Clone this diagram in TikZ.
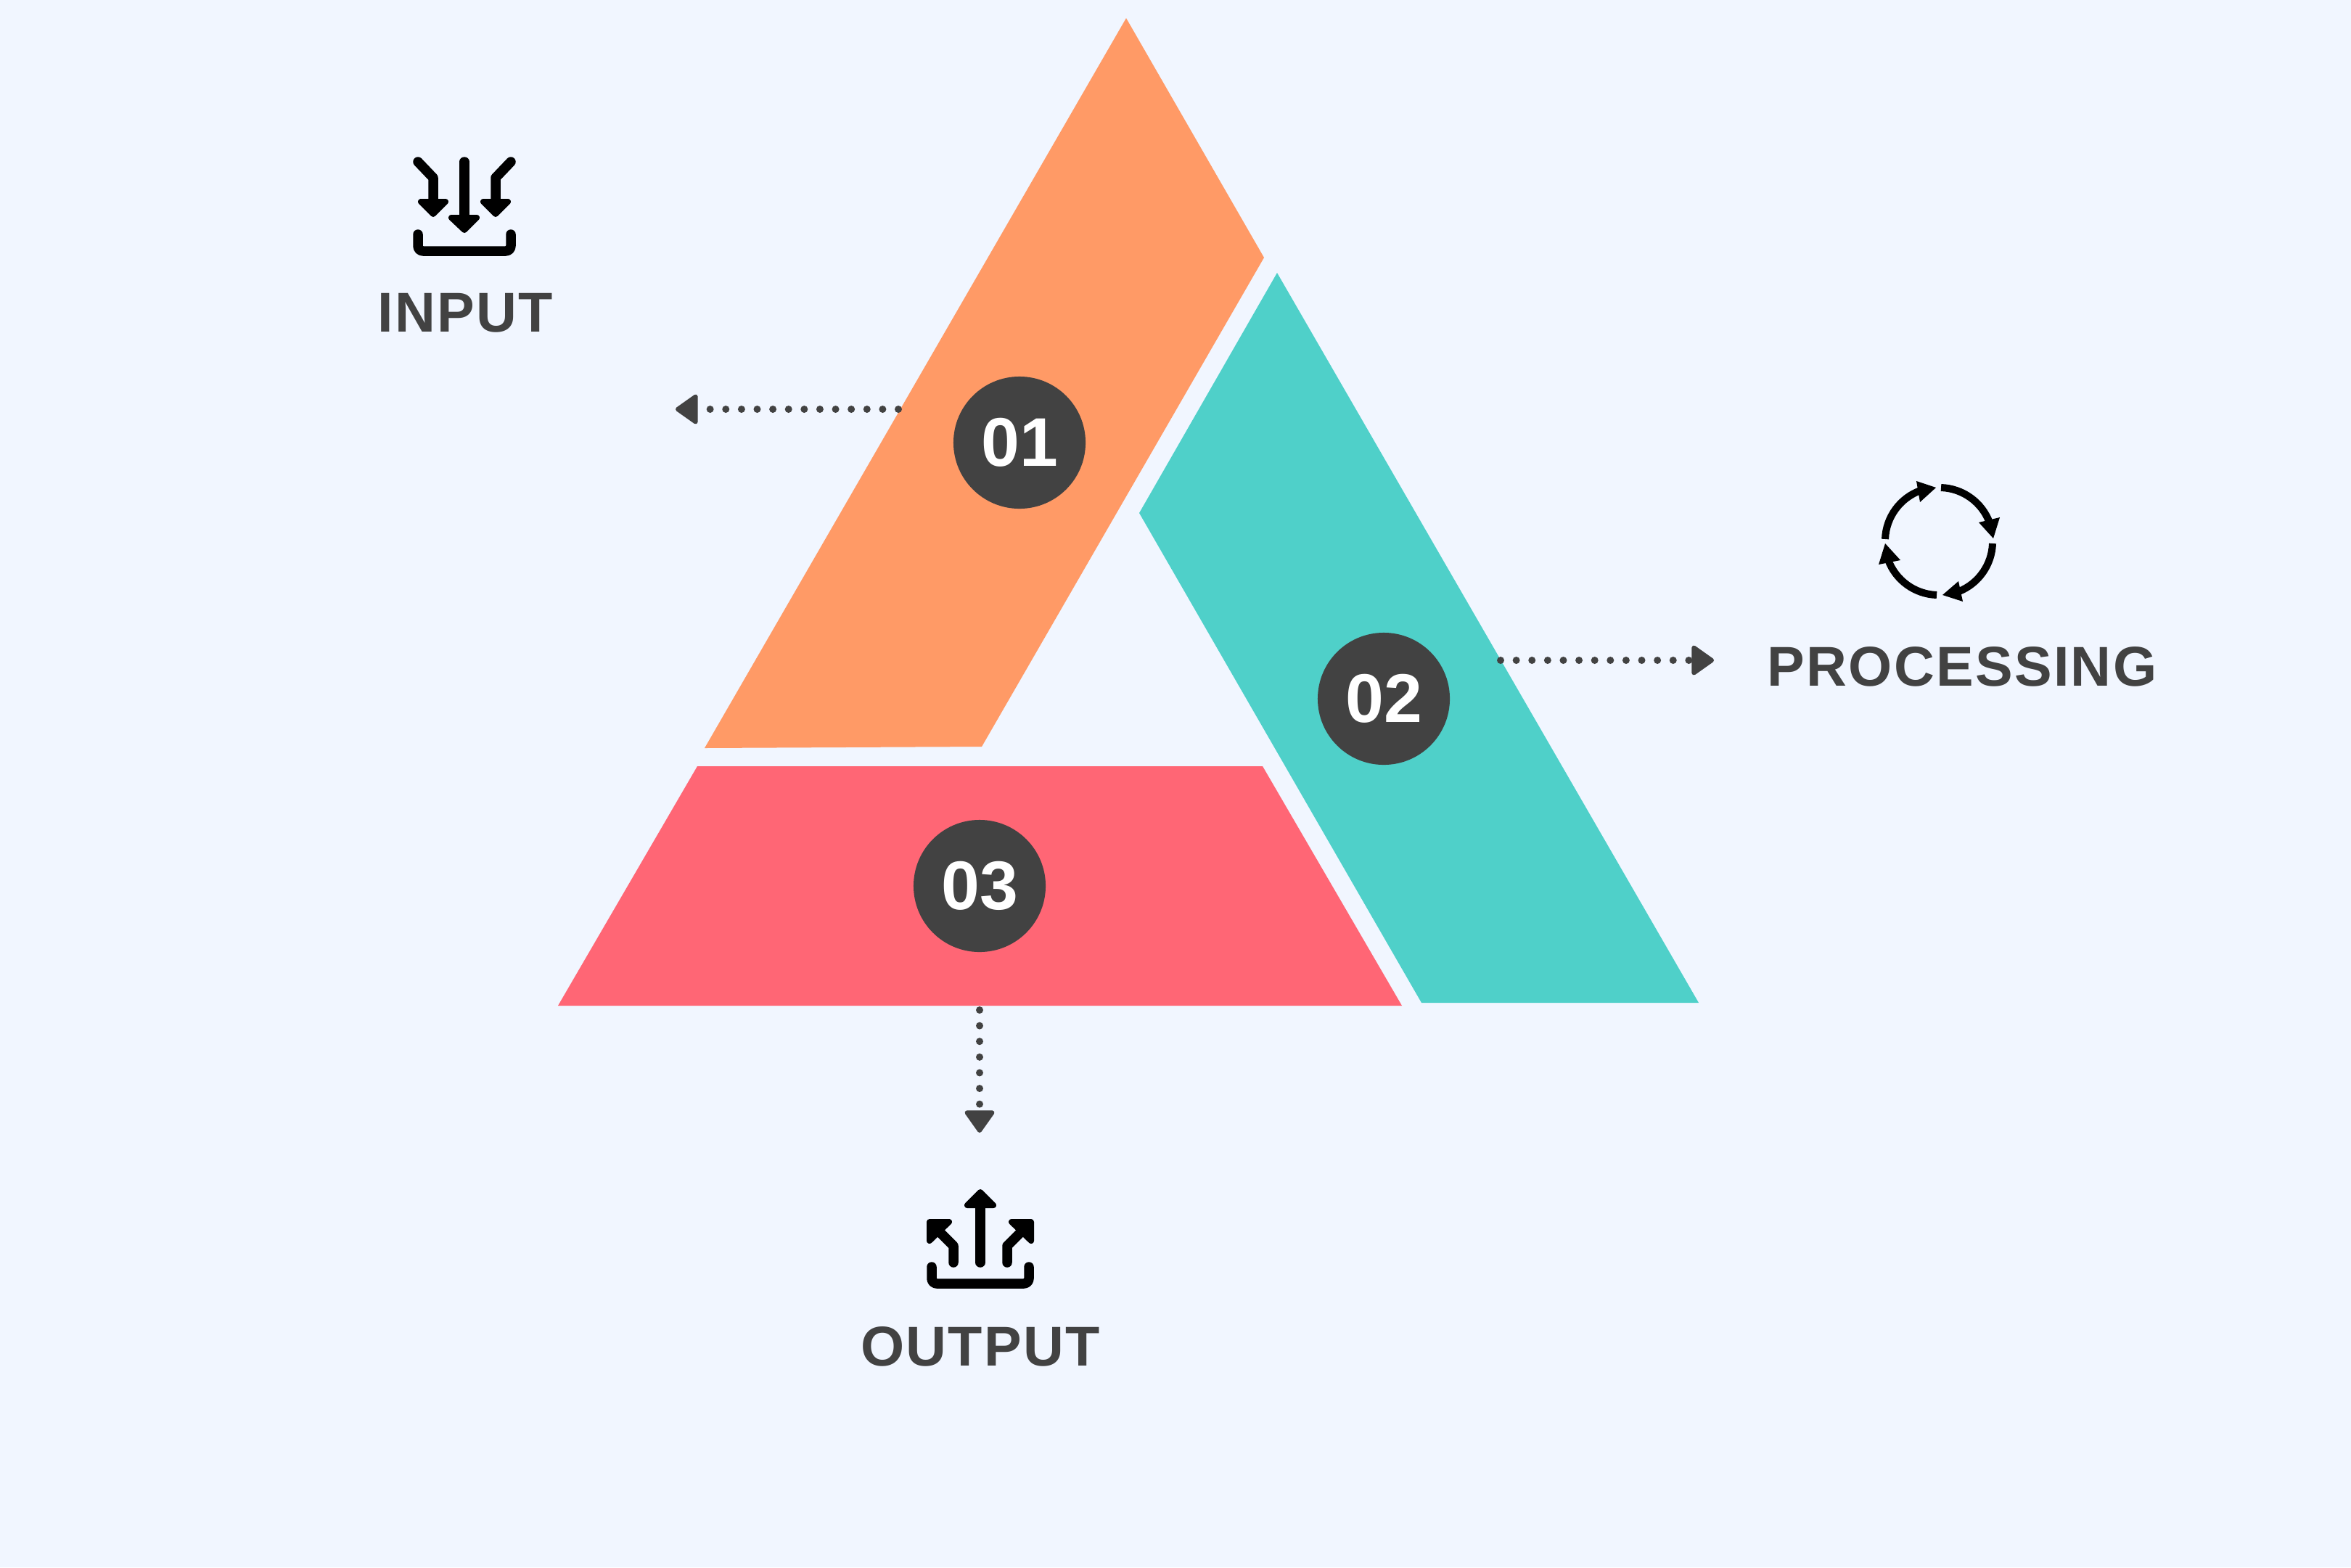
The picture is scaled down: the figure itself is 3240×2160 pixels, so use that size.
\documentclass[tikz,border=0pt]{standalone}
\usepackage{fontspec}
\setmainfont{Liberation Sans}
\newfontfamily\labelfont[LetterSpace=3]{Liberation Sans}
\usetikzlibrary{arrows.meta}
\definecolor{pagebg}{RGB}{241, 246, 255}
\definecolor{coral}{RGB}{255, 154, 102}
\definecolor{aqua}{RGB}{79, 208, 201}
\definecolor{rose}{RGB}{255, 102, 117}
\definecolor{charcoal}{RGB}{66, 66, 66}
\tikzset{
    stepnum/.style={circle, fill=charcoal, text=white, minimum size=1.82cm, inner sep=0pt, font=\fontsize{27}{27}\bfseries\selectfont},
    iolabel/.style={text=charcoal, inner sep=0pt, anchor=base, font=\fontsize{22}{22}\labelfont\bfseries},
    dotflow/.style={charcoal, line width=1mm, line cap=round, dash pattern=on 0pt off 2.16mm, -{Triangle[length=3.3mm, width=4.5mm, round, line width=0.6mm]}},
    iconline/.style={black, line width=1.35mm, line cap=round, line join=round},
    traybase/.style={iconline, rounded corners=0.7mm},
    iconring/.style={black, line width=1mm},
    icontip/.style={fill=black, draw=black, line width=0.8mm, line join=round},
    ringtip/.style={fill=black}
}
\begin{document}
\begin{tikzpicture}[x=0.01cm, y=-0.01cm]
            \fill[pagebg]                                                 (0,0) rectangle (3240,2160);
            % triangle parts
            \fill[coral] (1552,25) -- (1742,355) -- (1353,1029) -- (971,1031) -- cycle;
            \fill[aqua]  (1760,376) -- (2341,1382) -- (1959,1382) -- (1570,707) -- cycle;
            \fill[rose]  (961,1056) -- (1740,1056) -- (1932,1386) -- (769,1386) -- cycle;
            \node[stepnum] (step01) at (1405,610)  {01};
            \node[stepnum] (step02) at (1907,963)  {02};
            \node[stepnum] (step03) at (1350,1221) {03};
            % dotted flows
            \coordinate (inputfrom)   at (1238,564);
            \coordinate (inputto)     at (931,564);
            \coordinate (processfrom) at (2068,910);
            \coordinate (processto)   at (2362,910);
            \coordinate (outputfrom)  at (1350,1392);
            \coordinate (outputto)    at (1350,1561);
            \draw[dotflow] (inputfrom)   -- (inputto);
            \draw[dotflow] (processfrom) -- (processto);
            \draw[dotflow] (outputfrom)  -- (outputto);
            % labels
            \node[iolabel] (inputlabel)   at (641,457)   {INPUT};
            \node[iolabel] (processlabel) at (2704,945)  {PROCESSING};
            \node[iolabel] (outputlabel)  at (1351,1882) {OUTPUT};
            % input icon
            \draw[traybase] (576,323) -- (576,346) -- (704,346) -- (704,323);
            \draw[iconline] (640,223) -- (640,302);
            \draw[iconline] (576,223) -- (597,245) -- (597,280);
            \draw[iconline] (704,223) -- (683,245) -- (683,280);
            \filldraw[icontip] (622,300) -- (657,300) -- (640,317) -- cycle;
            \filldraw[icontip] (580,278) -- (614,278) -- (597,295) -- cycle;
            \filldraw[icontip] (666,278) -- (700,278) -- (683,295) -- cycle;
            % output icon
            \draw[traybase] (1284,1746) -- (1284,1769) -- (1418,1769) -- (1418,1746);
            \draw[iconline] (1351,1740) -- (1351,1662);
            \draw[iconline] (1314,1740) -- (1314,1717) -- (1290,1693);
            \draw[iconline] (1388,1740) -- (1388,1717) -- (1412,1693);
            \filldraw[icontip] (1333,1661) -- (1369,1661) -- (1351,1643) -- cycle;
            \filldraw[icontip] (1281,1684) -- (1308,1684) -- (1281,1710) -- cycle;
            \filldraw[icontip] (1421,1684) -- (1394,1684) -- (1421,1710) -- cycle;
            % processing icon
            \draw[iconring] (2675,672) arc[start angle=88,  end angle=20,   radius=0.74cm];
            \draw[iconring] (2746,749) arc[start angle=-2,  end angle=-68,  radius=0.74cm];
            \draw[iconring] (2669,820) arc[start angle=-92, end angle=-160, radius=0.74cm];
            \draw[iconring] (2598,743) arc[start angle=178, end angle=110,  radius=0.74cm];
            \fill[ringtip] (2747,742) -- (2756,713) -- (2727,720) -- cycle;
            \fill[ringtip] (2677,820) -- (2699,801) -- (2705,829) -- cycle;
            \fill[ringtip] (2598,749) -- (2589,778) -- (2619,772) -- cycle;
            \fill[ringtip] (2668,672) -- (2641,663) -- (2646,692) -- cycle;
        \end{tikzpicture}
\end{document}
